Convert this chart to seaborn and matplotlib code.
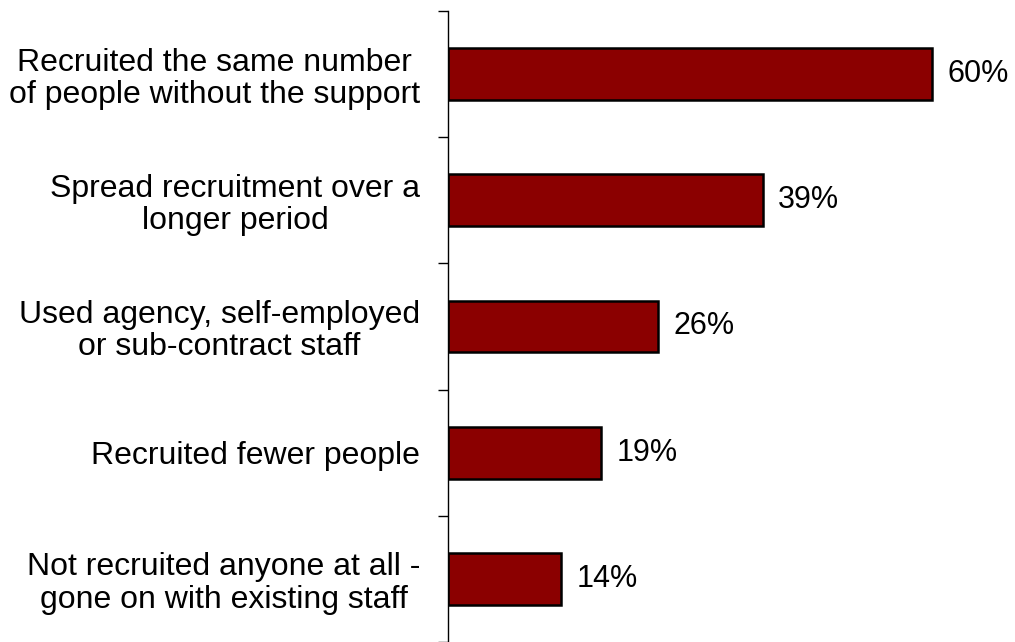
"""Horizontal bar chart: how employers coped without recruitment support."""

import matplotlib

matplotlib.use("Agg")
import matplotlib.pyplot as plt
import numpy as np
import pandas as pd
import seaborn as sns

CATEGORIES = [
    "Recruited the same number\nof people without the support",
    "Spread recruitment over a\nlonger period",
    "Used agency, self-employed\nor sub-contract staff",
    "Recruited fewer people",
    "Not recruited anyone at all -\ngone on with existing staff",
]
PERCENTAGES = [60, 39, 26, 19, 14]

BAR_COLOR = "#8B0000"


def main() -> None:
    sns.set_theme(style="white")
    plt.rcParams["font.family"] = ["Liberation Sans", "DejaVu Sans"]

    df = pd.DataFrame({"category": CATEGORIES, "pct": PERCENTAGES})

    fig = plt.figure(figsize=(10.15, 6.42), dpi=100)
    ax = fig.add_axes([448 / 1015, 0.0, 565 / 1015, 1 - 11 / 642])

    sns.barplot(
        data=df,
        x="pct",
        y="category",
        orient="h",
        color=BAR_COLOR,
        saturation=1,
        width=0.41,
        edgecolor="black",
        linewidth=1.8,
        ax=ax,
    )

    ax.set_xlim(0, 70)
    ax.set_ylim(len(CATEGORIES) - 0.5, -0.5)
    ax.set_xlabel("")
    ax.set_ylabel("")
    ax.set_xticks([])

    ax.tick_params(axis="y", which="major", length=0, pad=20, labelsize=23,
                   labelcolor="black")
    for label in ax.get_yticklabels():
        label.set_multialignment("center")
        label.set_linespacing(1.1)

    ax.set_yticks(np.arange(-0.5, len(CATEGORIES)), minor=True)
    ax.tick_params(axis="y", which="minor", length=7, width=1, color="black",
                   left=True)

    for side in ("top", "right", "bottom"):
        ax.spines[side].set_visible(False)
    ax.spines["left"].set_color("black")
    ax.spines["left"].set_linewidth(1)

    ax.bar_label(ax.containers[0], labels=[f"{v}%" for v in PERCENTAGES],
                 padding=11, fontsize=22, color="black")

    fig.savefig("out.png", dpi=100)
    plt.close(fig)


if __name__ == "__main__":
    main()
